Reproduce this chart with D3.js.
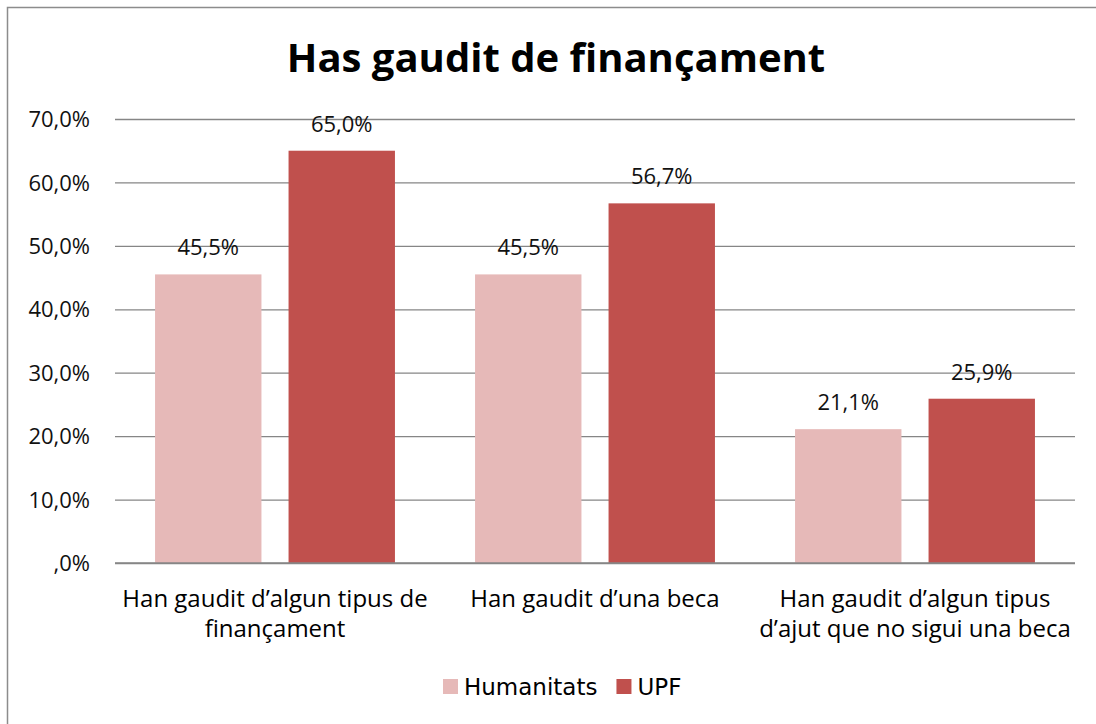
<!DOCTYPE html>
<html>
<head>
<meta charset="utf-8">
<script src="https://d3js.org/d3.v7.min.js"></script>
<style>
  html, body { margin: 0; padding: 0; background: #fff; }
  svg { display: block; }
</style>
</head>
<body>
<svg id="chart" width="1096" height="724"></svg>
<script>
const title = "Has gaudit de finançament";
const categories = [
  "Han gaudit d’algun tipus de finançament",
  "Han gaudit d’una beca",
  "Han gaudit d’algun tipus d’ajut que no sigui una beca"
];
const seriesNames = ["Humanitats", "UPF"];
const humanitats = [0.455, 0.455, 0.211];
const upf = [0.650, 0.567, 0.259];
const tickValues = [0, 0.1, 0.2, 0.3, 0.4, 0.5, 0.6, 0.7];
const colors = ["#E6B9B8", "#C0504D"];

(function () {
const fmt = v => {
  const s = (v * 100).toFixed(1).replace(".", ",");
  return (s.startsWith("0,") ? s.slice(1) : s) + "%";
};

const svg = d3.select("#chart");
const font = "'Open Sans', Lato, sans-serif";

// frame (right/bottom edges fall outside the picture)
svg.append("rect").attr("x", 7.5).attr("y", 7.5).attr("width", 1100).attr("height", 730)
  .attr("fill", "#fff").attr("stroke", "#8c8c8c").attr("stroke-width", 1.5);

const pl = 115, pr = 1075, pt = 119, pb = 563;
const y = d3.scaleLinear().domain([0, 0.7]).range([pb, pt]);
const x0 = d3.scaleBand().domain(categories).range([pl, pr]).padding(0);
const x1 = d3.scaleBand().domain(seriesNames).range([0, x0.bandwidth()])
  .paddingInner(0.203).paddingOuter(0.30);

// title
svg.append("text").attr("x", 556).attr("y", 72).attr("text-anchor", "middle")
  .attr("font-family", font).attr("font-weight", "bold").attr("font-size", 40)
  .attr("fill", "#000").text(title);

// gridlines + y labels
const yAxis = d3.axisLeft(y).tickValues(tickValues).tickFormat(fmt)
  .tickSize(-(pr - pl)).tickPadding(25);
const gy = svg.append("g").attr("transform", `translate(${pl},0)`).call(yAxis);
gy.select(".domain").remove();
gy.selectAll(".tick line").attr("stroke", "#868686").attr("stroke-width", 1.3);
gy.selectAll(".tick text").attr("font-family", font).attr("font-size", 22)
  .attr("fill", "#111").attr("dy", "0.35em");

// bars
const data = categories.map((c, i) => ({ cat: c, vals: [humanitats[i], upf[i]] }));
const groups = svg.append("g").selectAll("g").data(data).join("g")
  .attr("transform", d => `translate(${x0(d.cat)},0)`);
groups.selectAll("rect").data(d => d.vals.map((v, j) => ({ name: seriesNames[j], v, j })))
  .join("rect")
  .attr("x", d => x1(d.name)).attr("width", x1.bandwidth())
  .attr("y", d => y(d.v)).attr("height", d => y(0) - y(d.v))
  .attr("fill", d => colors[d.j]);
groups.selectAll("text.val").data(d => d.vals.map((v, j) => ({ name: seriesNames[j], v, j })))
  .join("text").attr("class", "val")
  .attr("x", d => x1(d.name) + x1.bandwidth() / 2).attr("y", d => y(d.v) - 19)
  .attr("text-anchor", "middle").attr("font-family", font).attr("font-size", 22)
  .attr("fill", "#111").text(d => fmt(d.v));

// baseline axis
svg.append("line").attr("x1", pl).attr("x2", pr).attr("y1", y(0)).attr("y2", y(0))
  .attr("stroke", "#868686").attr("stroke-width", 1.3);

// category labels with wrapping
const wrapWidth = 320;
const catG = svg.append("g");
categories.forEach(c => {
  const cx = x0(c) + x0.bandwidth() / 2;
  const t = catG.append("text").attr("x", cx).attr("y", 607)
    .attr("text-anchor", "middle").attr("font-family", font).attr("font-size", 24)
    .attr("fill", "#000");
  const words = c.split(" ");
  let line = [];
  let tspan = t.append("tspan").attr("x", cx).attr("dy", 0);
  words.forEach(w => {
    line.push(w);
    tspan.text(line.join(" "));
    if (tspan.node().getComputedTextLength() > wrapWidth && line.length > 1) {
      line.pop();
      tspan.text(line.join(" "));
      line = [w];
      tspan = t.append("tspan").attr("x", cx).attr("dy", 30).text(w);
    }
  });
});

// legend
const leg = svg.append("g");
let lx = 443;
seriesNames.forEach((n, i) => {
  leg.append("rect").attr("x", lx).attr("y", 679).attr("width", 15).attr("height", 15)
    .attr("fill", colors[i]);
  const tt = leg.append("text").attr("x", lx + 21).attr("y", 695)
    .attr("font-family", "'DejaVu Sans', sans-serif").attr("font-size", 23)
    .attr("fill", "#000").text(n);
  lx = lx + 21 + tt.node().getComputedTextLength() + 19;
});
})();
</script>
</body>
</html>
